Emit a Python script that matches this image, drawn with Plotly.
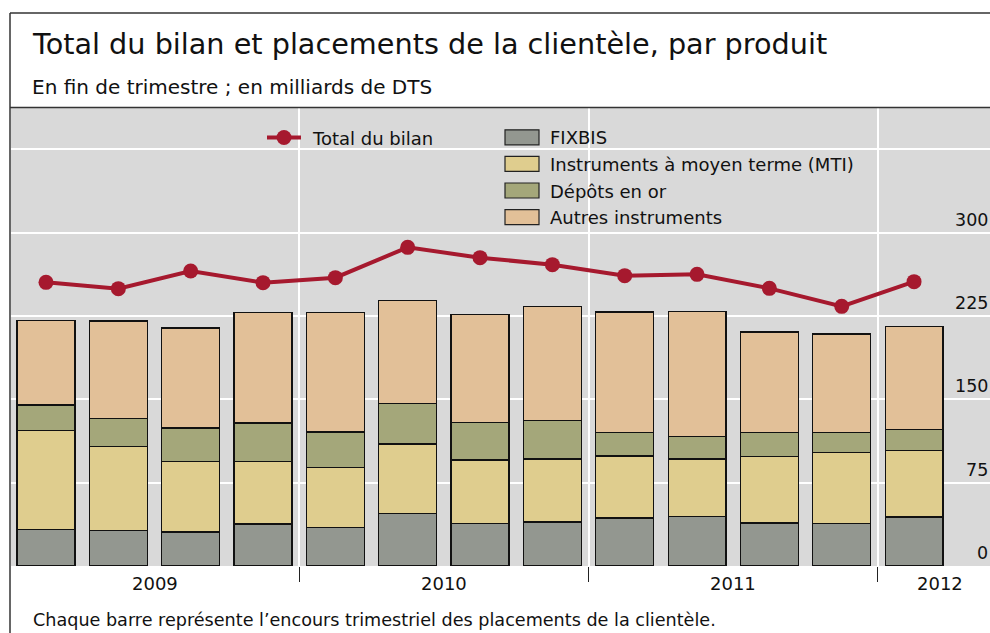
import plotly.graph_objects as go

# ---------------- data ----------------
quarters = ["2009 T1", "2009 T2", "2009 T3", "2009 T4",
            "2010 T1", "2010 T2", "2010 T3", "2010 T4",
            "2011 T1", "2011 T2", "2011 T3", "2011 T4",
            "2012 T1"]
fixbis = [33.0, 31.8, 30.6, 37.8, 34.5, 47.4, 38.4, 39.6, 43.2, 44.4, 38.7, 38.4, 44.1]
mti = [88.8, 75.6, 63.3, 56.1, 54.3, 62.4, 57.0, 56.7, 55.8, 51.9, 60.0, 63.9, 59.7]
depots_or = [23.1, 25.2, 30.3, 34.8, 31.8, 36.6, 33.6, 34.5, 21.3, 20.4, 21.6, 18.0, 19.2]
autres = [75.9, 87.9, 90.0, 99.6, 107.4, 92.4, 97.2, 102.9, 108.3, 112.5, 90.3, 88.5, 92.4]
total_bilan = [255.3, 249.6, 265.5, 255.0, 259.5, 286.8, 277.5, 271.2, 261.3, 262.5, 249.9, 233.7, 255.9]
y_ticks = [0, 75, 150, 225, 300]
years = ["2009", "2010", "2011", "2012"]

series_names = ["FIXBIS", "Instruments à moyen terme (MTI)", "Dépôts en or", "Autres instruments"]
series_vals = [fixbis, mti, depots_or, autres]
series_cols = ["#939790", "#dfcd8e", "#a4a77a", "#e2c098"]
line_col = "#a6192e"

# ---------------- layout constants ----------------
W, H = 990, 633
ML, MR, MT, MB = 11, 0, 108, 67
PW, PH = W - ML - MR, H - MT - MB
FONT = "DejaVu Sans, sans-serif"
TXT = "#111111"


def px(x):
    return (x - ML) / PW


def py(y):
    return (H - MB - y) / PH


xs = list(range(len(quarters)))

fig = go.Figure()
for name, vals, col in zip(series_names, series_vals, series_cols):
    fig.add_trace(go.Bar(x=xs, y=vals, name=name, width=0.8,
                         marker=dict(color=col, line=dict(color="#111111", width=1.2)),
                         customdata=quarters, showlegend=False))
fig.add_trace(go.Scatter(x=xs, y=total_bilan, mode="lines+markers", name="Total du bilan",
                         line=dict(color=line_col, width=4),
                         marker=dict(color=line_col, size=15),
                         customdata=quarters, showlegend=False))

shapes = []
annotations = []

# frame
frame = dict(color="#333333", width=1.5)
shapes.append(dict(type="line", xref="paper", yref="paper", x0=px(10), x1=px(1000), y0=py(13), y1=py(13), line=frame))
shapes.append(dict(type="line", xref="paper", yref="paper", x0=px(10), x1=px(10), y0=py(13), y1=py(640), line=frame))
shapes.append(dict(type="line", xref="paper", yref="paper", x0=px(10), x1=px(1000), y0=py(107.5), y1=py(107.5), line=frame))

# titles
annotations.append(dict(text="Total du bilan et placements de la clientèle, par produit",
                        xref="paper", yref="paper", x=px(30), y=py(44), xanchor="left", yanchor="middle",
                        showarrow=False, font=dict(size=28.7, color=TXT, family=FONT)))
annotations.append(dict(text="En fin de trimestre ; en milliards de DTS",
                        xref="paper", yref="paper", x=px(30), y=py(87), xanchor="left", yanchor="middle",
                        showarrow=False, font=dict(size=20, color=TXT, family=FONT)))
annotations.append(dict(text="Chaque barre représente l’encours trimestriel des placements de la clientèle.",
                        xref="paper", yref="paper", x=px(31), y=py(620), xanchor="left", yanchor="middle",
                        showarrow=False, font=dict(size=17.6, color=TXT, family=FONT)))

# legend (manual)
shapes.append(dict(type="line", xref="paper", yref="paper", x0=px(267), x1=px(301), y0=py(137.5), y1=py(137.5),
                   line=dict(color=line_col, width=4)))
shapes.append(dict(type="circle", xref="paper", yref="paper", x0=px(276.5), x1=px(291.5), y0=py(130), y1=py(145),
                   fillcolor=line_col, line=dict(color=line_col, width=0)))
annotations.append(dict(text="Total du bilan", xref="paper", yref="paper", x=px(310), y=py(138),
                        xanchor="left", yanchor="middle", showarrow=False,
                        font=dict(size=18, color=TXT, family=FONT)))
for i, (name, col) in enumerate(zip(series_names, series_cols)):
    cy = 137.3 + 26.6 * i
    shapes.append(dict(type="rect", xref="paper", yref="paper", x0=px(505), x1=px(539),
                       y0=py(cy - 7.5), y1=py(cy + 7.5), fillcolor=col,
                       line=dict(color="#222222", width=1.2)))
    annotations.append(dict(text=name, xref="paper", yref="paper", x=px(548), y=py(cy + 0.5),
                            xanchor="left", yanchor="middle", showarrow=False,
                            font=dict(size=18, color=TXT, family=FONT)))

# y tick labels (right side, above gridlines)
for v in y_ticks:
    annotations.append(dict(text=str(v), xref="paper", yref="y", x=1.0, y=v, yshift=13,
                            xanchor="right", yanchor="middle", showarrow=False,
                            font=dict(size=17.5, color=TXT, family=FONT)))

# year labels
year_pos = [1.5, 5.5, 9.5, 12.36]
for yr, xp in zip(years, year_pos):
    annotations.append(dict(text=yr, xref="x", yref="paper", x=xp, y=py(583),
                            xanchor="center", yanchor="middle", showarrow=False,
                            font=dict(size=18, color=TXT, family=FONT)))

fig.update_layout(
    width=W, height=H,
    margin=dict(l=ML, r=MR, t=MT, b=MB, pad=0),
    paper_bgcolor="white", plot_bgcolor="#d9d9d9",
    barmode="stack",
    showlegend=False,
    shapes=shapes, annotations=annotations,
    font=dict(family=FONT, color=TXT),
    xaxis=dict(range=[-0.484, 13.05], tickvals=[3.5, 7.5, 11.5], showticklabels=False,
               ticks="outside", ticklen=15, tickcolor="#222222", tickwidth=1.2,
               showgrid=True, gridcolor="white", gridwidth=1.5, zeroline=False, showline=False,
               fixedrange=True),
    yaxis=dict(range=[0, 412.2], tickvals=[0, 75, 150, 225, 300, 375], showticklabels=False,
               showgrid=True, gridcolor="white", gridwidth=1.5, zeroline=False, showline=False,
               ticks="", fixedrange=True),
)

fig.write_html("out.html", config={"displayModeBar": False},
               post_script="document.body.style.margin='0';document.body.style.overflow='hidden';")
